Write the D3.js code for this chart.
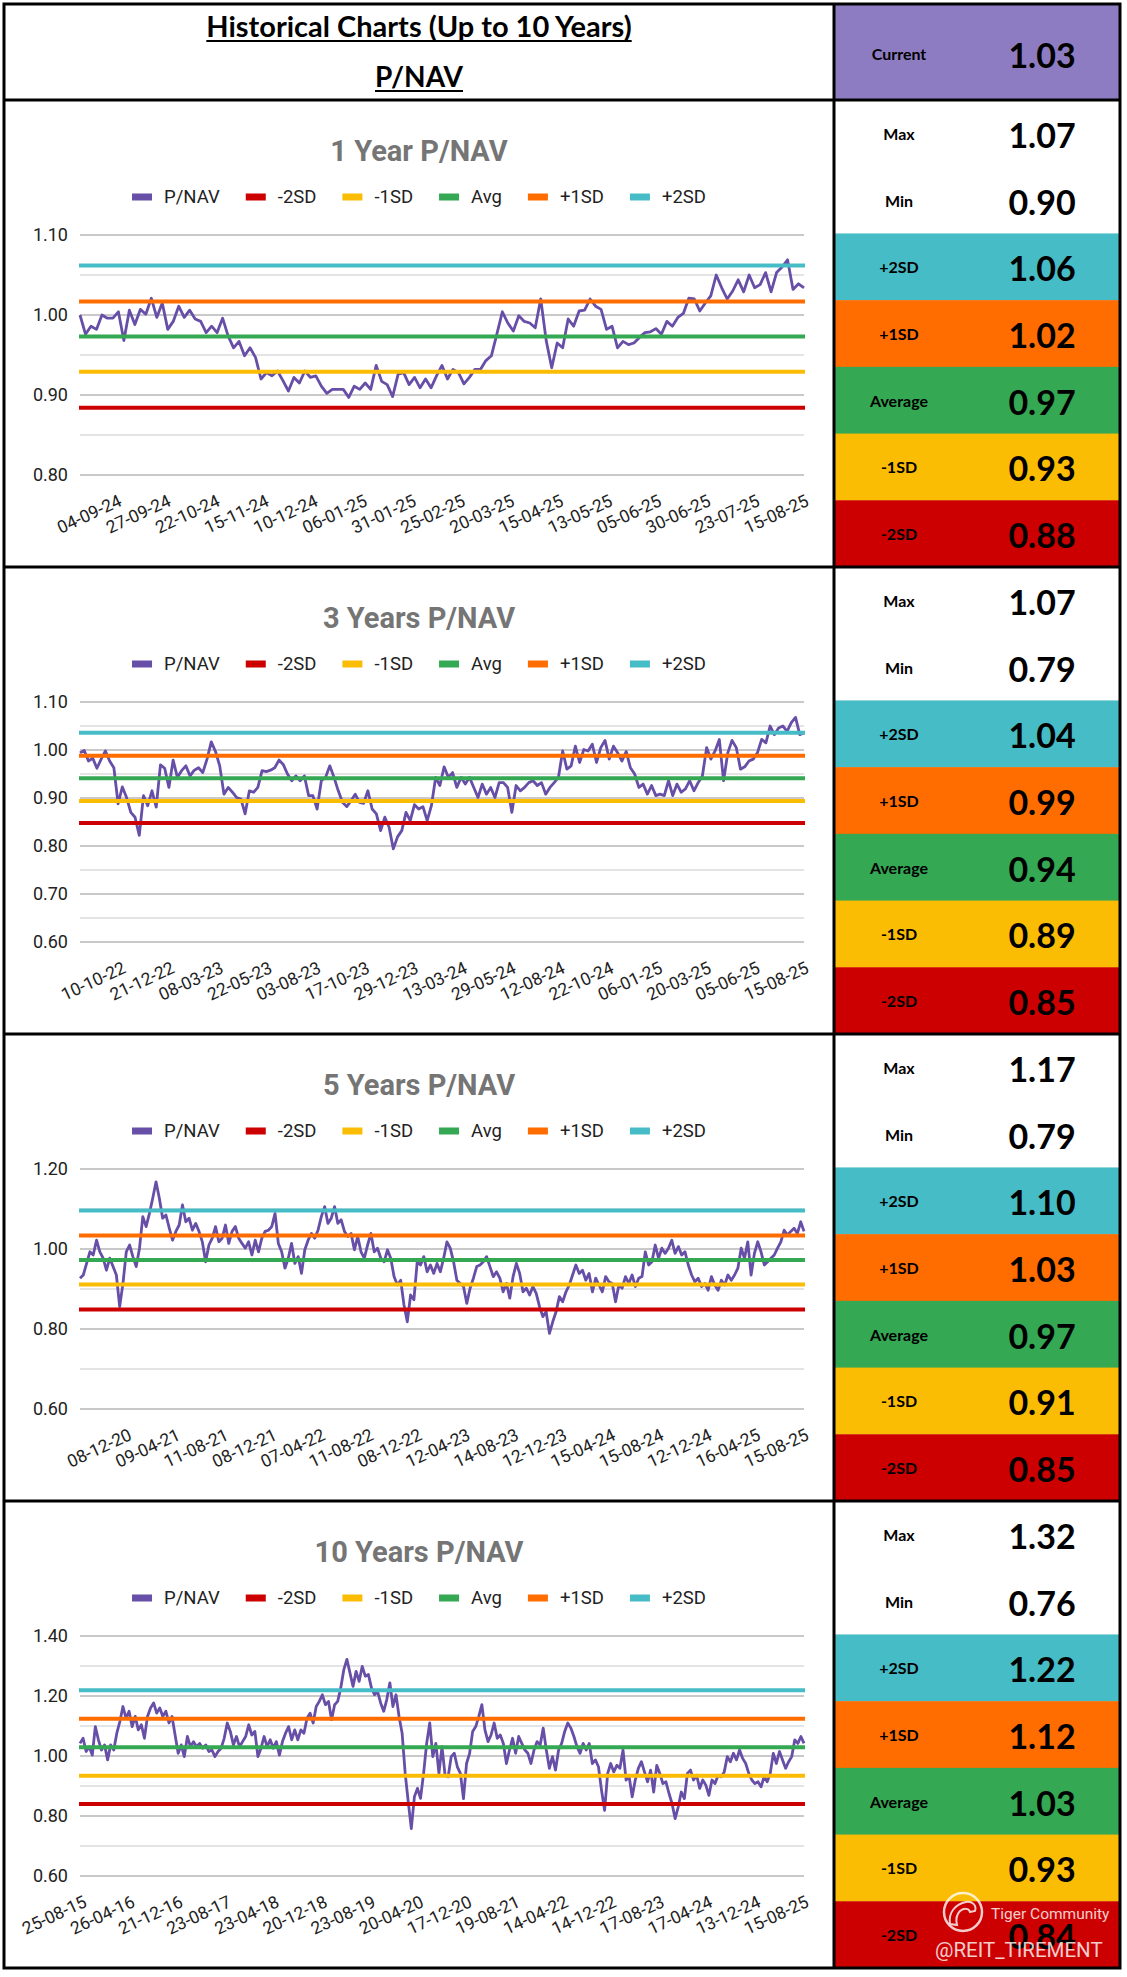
<!DOCTYPE html>
<html>
<head>
<meta charset="utf-8">
<script src="https://cdn.jsdelivr.net/npm/d3@7"></script>
<style>
  body { margin: 0; background: #fff; }
  svg { display: block; }
</style>
</head>
<body>
<div id="chart"></div>
<script>
// ---------- data ----------
var headerTitle = 'Historical Charts (Up to 10 Years)';
var headerSub = 'P/NAV';
var currentValue = 1.03;

var titles = ['1 Year P/NAV', '3 Years P/NAV', '5 Years P/NAV', '10 Years P/NAV'];
var seriesNames = ['P/NAV', '-2SD', '-1SD', 'Avg', '+1SD', '+2SD'];
var rowLabels = ['Max', 'Min', '+2SD', '+1SD', 'Average', '-1SD', '-2SD'];

var maxValues = [1.07, 1.07, 1.17, 1.32];
var minValues = [0.90, 0.79, 0.79, 0.76];

// -2SD, -1SD, Avg, +1SD, +2SD
var bands1y = [0.884, 0.929, 0.973, 1.017, 1.062];
var bands3y = [0.848, 0.894, 0.941, 0.988, 1.036];
var bands5y = [0.849, 0.911, 0.9725, 1.034, 1.096];
var bands10y = [0.840, 0.934, 1.029, 1.124, 1.219];

var yDomains = [[0.8, 1.1], [0.6, 1.1], [0.6, 1.2], [0.6, 1.4]];
var yMajor = [0.1, 0.1, 0.2, 0.2];

var dates1y = ['04-09-24', '27-09-24', '22-10-24', '15-11-24', '10-12-24', '06-01-25', '31-01-25', '25-02-25',
  '20-03-25', '15-04-25', '13-05-25', '05-06-25', '30-06-25', '23-07-25', '15-08-25'];
var dates3y = ['10-10-22', '21-12-22', '08-03-23', '22-05-23', '03-08-23', '17-10-23', '29-12-23', '13-03-24',
  '29-05-24', '12-08-24', '22-10-24', '06-01-25', '20-03-25', '05-06-25', '15-08-25'];
var dates5y = ['08-12-20', '09-04-21', '11-08-21', '08-12-21', '07-04-22', '11-08-22', '08-12-22', '12-04-23',
  '14-08-23', '12-12-23', '15-04-24', '15-08-24', '12-12-24', '16-04-25', '15-08-25'];
var dates10y = ['25-08-15', '26-04-16', '21-12-16', '23-08-17', '23-04-18', '20-12-18', '23-08-19', '20-04-20',
  '17-12-20', '19-08-21', '14-04-22', '14-12-22', '17-08-23', '17-04-24', '13-12-24', '15-08-25'];

var pnav1y = [1.000, 0.976, 0.986, 0.982, 1.000, 0.996, 0.996, 1.004, 0.968, 1.006, 0.988, 1.007, 1.001, 1.021,
  0.997, 1.015, 0.982, 0.992, 1.011, 0.997, 1.006, 0.995, 0.992, 0.978, 0.986, 0.978, 0.996, 0.974, 0.959, 0.967,
  0.949, 0.959, 0.947, 0.920, 0.928, 0.924, 0.930, 0.918, 0.905, 0.922, 0.915, 0.930, 0.922, 0.924, 0.911, 0.902,
  0.907, 0.907, 0.907, 0.897, 0.911, 0.907, 0.915, 0.907, 0.937, 0.917, 0.913, 0.898, 0.926, 0.928, 0.913, 0.922,
  0.909, 0.920, 0.909, 0.924, 0.937, 0.920, 0.932, 0.928, 0.914, 0.922, 0.932, 0.932, 0.943, 0.949, 0.976, 1.004,
  0.990, 0.980, 0.999, 0.992, 0.990, 0.984, 1.020, 0.968, 0.934, 0.965, 0.959, 0.995, 0.986, 1.005, 1.006, 1.020,
  1.011, 1.007, 0.982, 0.986, 0.959, 0.967, 0.963, 0.965, 0.972, 0.978, 0.979, 0.983, 0.976, 0.992, 0.986, 0.997,
  1.002, 1.021, 1.020, 1.005, 1.015, 1.024, 1.050, 1.034, 1.020, 1.030, 1.044, 1.029, 1.050, 1.034, 1.038, 1.053,
  1.029, 1.053, 1.060, 1.069, 1.032, 1.039, 1.034];

var pnav3y = [0.994, 0.999, 0.977, 0.983, 0.962, 0.981, 0.998, 0.977, 0.963, 0.888, 0.923, 0.901, 0.870, 0.860,
  0.822, 0.905, 0.884, 0.915, 0.881, 0.969, 0.962, 0.922, 0.979, 0.943, 0.957, 0.967, 0.946, 0.958, 0.963, 0.953,
  0.981, 1.017, 0.997, 0.967, 0.908, 0.922, 0.912, 0.901, 0.898, 0.867, 0.915, 0.912, 0.922, 0.957, 0.955, 0.958,
  0.963, 0.979, 0.970, 0.950, 0.936, 0.946, 0.936, 0.946, 0.905, 0.905, 0.877, 0.936, 0.943, 0.967, 0.943, 0.915,
  0.891, 0.882, 0.894, 0.908, 0.891, 0.889, 0.915, 0.877, 0.867, 0.832, 0.860, 0.839, 0.794, 0.819, 0.832, 0.870,
  0.853, 0.886, 0.877, 0.882, 0.853, 0.884, 0.943, 0.926, 0.965, 0.943, 0.953, 0.922, 0.943, 0.929, 0.943, 0.922,
  0.901, 0.929, 0.908, 0.922, 0.901, 0.932, 0.932, 0.922, 0.870, 0.926, 0.915, 0.922, 0.932, 0.936, 0.926, 0.932,
  0.908, 0.922, 0.932, 0.943, 0.998, 0.960, 0.967, 1.008, 0.974, 1.001, 0.998, 1.012, 0.974, 1.005, 1.020, 0.981,
  1.008, 0.994, 0.977, 0.997, 0.963, 0.950, 0.922, 0.929, 0.908, 0.926, 0.905, 0.908, 0.905, 0.936, 0.905, 0.929,
  0.912, 0.919, 0.936, 0.915, 0.932, 0.946, 1.005, 0.981, 0.998, 1.022, 0.936, 0.994, 1.020, 1.005, 0.960, 0.965,
  0.977, 0.981, 0.994, 1.022, 1.015, 1.050, 1.032, 1.046, 1.050, 1.039, 1.057, 1.068, 1.032, 1.036];

var pnav5y = [0.927, 0.935, 0.964, 0.993, 0.985, 1.022, 0.993, 0.977, 0.947, 0.977, 0.956, 0.935, 0.856, 0.914,
  0.993, 1.010, 0.981, 0.956, 1.002, 1.081, 1.056, 1.089, 1.127, 1.168, 1.127, 1.077, 1.085, 1.052, 1.022, 1.044,
  1.060, 1.110, 1.068, 1.077, 1.047, 1.064, 1.044, 1.018, 0.968, 1.010, 1.027, 1.056, 1.018, 1.027, 1.060, 1.014,
  1.044, 1.056, 1.027, 1.014, 1.002, 1.018, 0.985, 1.022, 0.993, 1.027, 1.044, 1.047, 1.056, 1.089, 1.014, 0.993,
  0.952, 0.977, 1.014, 0.964, 0.981, 0.939, 0.998, 1.022, 1.039, 1.027, 1.047, 1.081, 1.106, 1.064, 1.077, 1.106,
  1.064, 1.073, 1.044, 1.031, 1.039, 0.998, 1.031, 0.993, 0.977, 1.010, 1.039, 0.993, 1.002, 0.977, 0.968, 0.998,
  0.977, 0.931, 0.910, 0.922, 0.860, 0.818, 0.885, 0.873, 0.968, 0.960, 0.981, 0.943, 0.960, 0.939, 0.964, 0.943,
  0.977, 1.018, 1.002, 0.968, 0.922, 0.914, 0.906, 0.864, 0.902, 0.927, 0.956, 0.960, 0.968, 0.981, 0.956, 0.931,
  0.943, 0.927, 0.893, 0.914, 0.877, 0.931, 0.964, 0.939, 0.893, 0.902, 0.885, 0.906, 0.889, 0.856, 0.831, 0.843,
  0.789, 0.818, 0.843, 0.881, 0.868, 0.893, 0.910, 0.935, 0.960, 0.939, 0.947, 0.922, 0.939, 0.893, 0.927, 0.910,
  0.893, 0.931, 0.918, 0.914, 0.868, 0.910, 0.902, 0.931, 0.914, 0.935, 0.906, 0.927, 0.931, 0.993, 0.960, 0.968,
  1.010, 0.977, 1.002, 0.989, 1.002, 1.022, 0.989, 1.006, 0.985, 0.993, 0.960, 0.935, 0.918, 0.927, 0.906, 0.914,
  0.897, 0.931, 0.910, 0.897, 0.922, 0.910, 0.935, 0.922, 0.935, 0.952, 1.002, 0.977, 1.018, 0.935, 0.989, 1.018,
  0.993, 0.960, 0.968, 0.977, 0.985, 1.002, 1.018, 1.047, 1.035, 1.044, 1.052, 1.039, 1.068, 1.044];

var pnav10y = [1.042, 1.059, 1.015, 1.031, 1.003, 1.098, 1.054, 1.020, 1.037, 0.987, 1.037, 1.020, 1.076, 1.115,
  1.165, 1.126, 1.149, 1.098, 1.132, 1.087, 1.104, 1.059, 1.132, 1.160, 1.177, 1.143, 1.160, 1.132, 1.149, 1.110,
  1.132, 1.070, 1.009, 1.037, 0.998, 1.065, 1.031, 1.048, 1.031, 1.042, 1.026, 1.037, 1.015, 1.020, 0.998, 1.015,
  1.026, 1.059, 1.110, 1.082, 1.037, 1.065, 1.031, 1.048, 1.065, 1.104, 1.070, 1.082, 0.998, 1.026, 1.065, 1.031,
  1.054, 1.026, 1.048, 1.003, 1.048, 1.076, 1.098, 1.054, 1.087, 1.054, 1.087, 1.076, 1.126, 1.143, 1.110, 1.165,
  1.182, 1.204, 1.171, 1.182, 1.121, 1.171, 1.182, 1.227, 1.288, 1.322, 1.277, 1.232, 1.282, 1.249, 1.299, 1.266,
  1.272, 1.227, 1.204, 1.215, 1.177, 1.149, 1.188, 1.244, 1.165, 1.204, 1.132, 1.076, 0.942, 0.847, 0.758, 0.864,
  0.892, 0.859, 0.942, 1.042, 1.110, 0.998, 1.042, 0.942, 1.031, 0.936, 0.931, 0.998, 1.009, 0.964, 0.942, 0.858,
  0.975, 1.009, 1.082, 1.098, 1.132, 1.171, 1.087, 1.048, 1.070, 1.110, 1.059, 1.070, 1.042, 0.975, 1.020, 1.059,
  1.009, 1.065, 1.042, 1.020, 1.009, 0.975, 1.020, 1.048, 1.037, 1.093, 1.020, 0.959, 0.998, 0.953, 1.020, 1.042,
  1.082, 1.110, 1.093, 1.065, 1.031, 1.009, 1.042, 1.020, 1.042, 0.975, 0.987, 0.964, 0.886, 0.819, 0.942, 0.975,
  0.947, 0.969, 0.959, 1.020, 0.920, 0.931, 0.864, 0.920, 0.959, 0.981, 0.947, 0.914, 0.953, 0.880, 0.969, 0.942,
  0.908, 0.914, 0.875, 0.841, 0.791, 0.830, 0.880, 0.858, 0.942, 0.953, 0.920, 0.936, 0.892, 0.920, 0.903, 0.869,
  0.920, 0.908, 0.936, 0.931, 0.947, 0.998, 0.981, 1.009, 0.987, 1.020, 0.992, 0.975, 0.942, 0.920, 0.908, 0.914,
  0.897, 0.931, 0.914, 0.942, 1.009, 0.975, 1.015, 0.987, 0.959, 0.981, 0.998, 1.054, 1.042, 1.065, 1.042];

var pnavSeries = [pnav1y, pnav3y, pnav5y, pnav10y];
var bandSeries = [bands1y, bands3y, bands5y, bands10y];
var dateLabels = [dates1y, dates3y, dates5y, dates10y];

// ---------- layout / style ----------
var W = 1127, H = 1977;
var leftX = 4, divX = 834, rightX = 1120;
var headerH = 100, panelH = 467;
var plotL = 80, plotR = 804;
var panelCX = (leftX + divX) / 2;
var labelCX = 899, valueCX = 1042;
// where the first date label ends (last one always ends at 810)
var firstLabelEnd = [123, 127, 133, 88];

var lineColors = ['#674ea7', '#cc0000', '#fbbc04', '#34a853', '#ff6d01', '#46bdc6'];
var rowColors = ['#ffffff', '#ffffff', '#46bdc6', '#ff6d01', '#34a853', '#fbbc04', '#cc0000'];
var currentColor = '#8e7cc3';

var chartFont = 'Roboto, "Noto Sans", sans-serif';
var tableFont = 'Lato, "Open Sans", sans-serif';

var svg = d3.select('#chart').append('svg')
  .attr('width', W)
  .attr('height', H);

svg.append('rect').attr('width', W).attr('height', H).attr('fill', '#fff');

/******************* HEADER *******************/
function underlined(text, y, size) {
  var t = svg.append('text')
    .attr('x', panelCX)
    .attr('y', y)
    .attr('text-anchor', 'middle')
    .style('font-family', tableFont)
    .style('font-weight', 'bold')
    .style('font-size', size + 'px')
    .attr('fill', '#000')
    .text(text);
  var w = t.node().getComputedTextLength();
  svg.append('line')
    .attr('x1', panelCX - w / 2).attr('x2', panelCX + w / 2)
    .attr('y1', y + 4).attr('y2', y + 4)
    .attr('stroke', '#000').attr('stroke-width', 2);
}
underlined(headerTitle, 37, 29);
underlined(headerSub, 87, 28);

svg.append('rect')
  .attr('x', divX).attr('y', leftX)
  .attr('width', rightX - divX).attr('height', headerH - leftX)
  .attr('fill', currentColor);
svg.append('text')
  .attr('x', labelCX).attr('y', 53)
  .attr('text-anchor', 'middle').attr('dominant-baseline', 'central')
  .style('font-family', tableFont).style('font-weight', 'bold').style('font-size', '16px')
  .text('Current');
svg.append('text')
  .attr('x', valueCX).attr('y', 54)
  .attr('text-anchor', 'middle').attr('dominant-baseline', 'central')
  .style('font-family', tableFont).style('font-weight', 'bold').style('font-size', '34px')
  .text(currentValue.toFixed(2));

/******************* PANELS *******************/
var fmt = d3.format('.2f');

titles.forEach(function(title, i) {
  var top = headerH + i * panelH;
  var g = svg.append('g').attr('class', 'panel');

  // chart title
  g.append('text')
    .attr('x', panelCX).attr('y', top + 61)
    .attr('text-anchor', 'middle')
    .style('font-family', chartFont).style('font-weight', 'bold').style('font-size', '29px')
    .attr('fill', '#757575')
    .text(title);

  // legend, measured then centred
  var leg = g.append('g');
  var xpos = 0;
  seriesNames.forEach(function(name, k) {
    var item = leg.append('g').attr('transform', 'translate(' + xpos + ',0)');
    item.append('rect')
      .attr('x', 0).attr('y', -3.5)
      .attr('width', 20).attr('height', 7)
      .attr('fill', lineColors[k]);
    var t = item.append('text')
      .attr('x', 32).attr('y', 0)
      .attr('dominant-baseline', 'central')
      .style('font-family', chartFont).style('font-size', '18.5px')
      .attr('fill', '#222')
      .text(name);
    xpos += 32 + t.node().getComputedTextLength() + 26;
  });
  var legW = xpos - 26;
  leg.attr('transform', 'translate(' + (panelCX - legW / 2) + ',' + (top + 97) + ')');

  // scales
  var dom = yDomains[i];
  var y = d3.scaleLinear().domain(dom).range([top + 375, top + 135]);
  var data = pnavSeries[i];
  var x = d3.scaleLinear().domain([0, data.length - 1]).range([plotL, plotR]);

  // gridlines (major + half-step minor)
  var major = yMajor[i];
  var gridVals = d3.range(dom[0], dom[1] + 1e-9, major / 2);
  var majorVals = gridVals.filter(function(v) {
    return Math.abs(v / major - Math.round(v / major)) < 1e-6;
  });
  g.append('g').selectAll('line')
    .data(gridVals)
    .enter().append('line')
    .attr('x1', plotL).attr('x2', plotR)
    .attr('y1', function(d) { return y(d); })
    .attr('y2', function(d) { return y(d); })
    .attr('stroke', function(d) { return majorVals.indexOf(d) >= 0 ? '#c9c9c9' : '#e4e4e4'; })
    .attr('stroke-width', 2);

  // y axis labels
  var yAxis = g.append('g')
    .attr('transform', 'translate(' + (plotL - 12) + ',0)')
    .call(d3.axisLeft(y).tickValues(majorVals).tickFormat(fmt).tickSize(0).tickPadding(0));
  yAxis.select('.domain').remove();
  yAxis.selectAll('text')
    .style('font-family', chartFont).style('font-size', '18px')
    .attr('fill', '#222');

  // x labels, rotated
  var labels = dateLabels[i];
  var xl = d3.scalePoint().domain(labels).range([firstLabelEnd[i], 810]);
  g.append('g').selectAll('text')
    .data(labels)
    .enter().append('text')
    .attr('transform', function(d) {
      return 'translate(' + xl(d) + ',' + (top + 375 + 30) + ') rotate(-25)';
    })
    .attr('text-anchor', 'end')
    .style('font-family', chartFont).style('font-size', '17.5px')
    .attr('fill', '#222')
    .text(function(d) { return d; });

  // P/NAV line
  var line = d3.line()
    .x(function(d, k) { return x(k); })
    .y(function(d) { return y(d); });
  g.append('path')
    .datum(data)
    .attr('d', line)
    .attr('fill', 'none')
    .attr('stroke', lineColors[0])
    .attr('stroke-width', 2.8)
    .attr('stroke-linejoin', 'round');

  // SD / average bands drawn over the series
  g.append('g').selectAll('line')
    .data(bandSeries[i])
    .enter().append('line')
    .attr('x1', plotL - 1).attr('x2', plotR + 1)
    .attr('y1', function(d) { return y(d); })
    .attr('y2', function(d) { return y(d); })
    .attr('stroke', function(d, k) { return lineColors[k + 1]; })
    .attr('stroke-width', 4);

  // right hand table
  var bands = bandSeries[i];
  var rowVals = [maxValues[i], minValues[i], bands[4], bands[3], bands[2], bands[1], bands[0]];
  var rowH = panelH / 7;
  var rows = svg.append('g').selectAll('g')
    .data(rowLabels)
    .enter().append('g')
    .attr('transform', function(d, k) { return 'translate(0,' + (top + k * rowH) + ')'; });
  rows.append('rect')
    .attr('x', divX).attr('y', 0)
    .attr('width', rightX - divX).attr('height', rowH + 0.5)
    .attr('fill', function(d, k) { return rowColors[k]; });
  rows.append('text')
    .attr('x', labelCX).attr('y', rowH / 2)
    .attr('text-anchor', 'middle').attr('dominant-baseline', 'central')
    .style('font-family', tableFont).style('font-weight', 'bold').style('font-size', '16px')
    .text(function(d) { return d; });
  rows.append('text')
    .attr('x', valueCX).attr('y', rowH / 2 + 1)
    .attr('text-anchor', 'middle').attr('dominant-baseline', 'central')
    .style('font-family', tableFont).style('font-weight', 'bold').style('font-size', '34px')
    .text(function(d, k) { return rowVals[k].toFixed(2); });

  // separator above each panel
  svg.append('line')
    .attr('x1', leftX).attr('x2', rightX)
    .attr('y1', top).attr('y2', top)
    .attr('stroke', '#000').attr('stroke-width', 3);
});

/******************* BORDERS *******************/
var bottomY = headerH + 4 * panelH;
svg.append('line')
  .attr('x1', divX).attr('x2', divX)
  .attr('y1', leftX).attr('y2', bottomY)
  .attr('stroke', '#000').attr('stroke-width', 3);
svg.append('rect')
  .attr('x', leftX).attr('y', leftX)
  .attr('width', rightX - leftX).attr('height', bottomY - leftX)
  .attr('fill', 'none').attr('stroke', '#000').attr('stroke-width', 3);

/******************* WATERMARK *******************/
var wm = svg.append('g').attr('opacity', 0.8);
wm.append('circle')
  .attr('cx', 963).attr('cy', 1912).attr('r', 19)
  .attr('fill', 'none').attr('stroke', '#fff').attr('stroke-width', 2.5);
wm.append('path')
  .attr('d', 'M950,1924 C948,1912 956,1904 966,1902 C972,1901 977,1905 975,1911 L970,1912 C969,1908 964,1908 960,1911 C956,1915 956,1921 957,1925 Z')
  .attr('fill', 'none').attr('stroke', '#fff').attr('stroke-width', 2);
wm.append('text')
  .attr('x', 991).attr('y', 1919)
  .style('font-family', chartFont).style('font-size', '15.5px')
  .attr('fill', '#fff')
  .text('Tiger Community');
wm.append('text')
  .attr('x', 935).attr('y', 1957)
  .style('font-family', chartFont).style('font-size', '20.5px')
  .attr('fill', '#fff')
  .text('@REIT_TIREMENT');
</script>
</body>
</html>
